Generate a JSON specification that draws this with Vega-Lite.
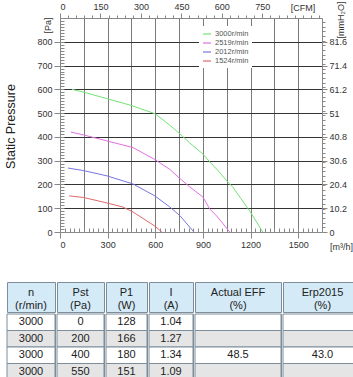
{
  "$schema": "https://vega.github.io/schema/vega-lite/v6.json",
  "background": "white",
  "padding": {"left": 4, "top": 1, "right": 0, "bottom": 0},
  "config": {
    "font": "Liberation Sans",
    "view": {"stroke": null},
    "axis": {"labelFont": "Liberation Sans", "titleFont": "Liberation Sans", "labelFontSize": 9, "labelColor": "#333", "titleColor": "#333", "titleFontWeight": "normal", "domainColor": "#888", "tickColor": "#888", "zindex": 0}
  },
  "datasets": {
    "curves": [
      {"speed": "3000r/min", "q": 75, "p": 600},
      {"speed": "3000r/min", "q": 150, "p": 588},
      {"speed": "3000r/min", "q": 300, "p": 560},
      {"speed": "3000r/min", "q": 450, "p": 532},
      {"speed": "3000r/min", "q": 600, "p": 497},
      {"speed": "3000r/min", "q": 692, "p": 449},
      {"speed": "3000r/min", "q": 755, "p": 413},
      {"speed": "3000r/min", "q": 818, "p": 374},
      {"speed": "3000r/min", "q": 900, "p": 328},
      {"speed": "3000r/min", "q": 943, "p": 295},
      {"speed": "3000r/min", "q": 1000, "p": 255},
      {"speed": "3000r/min", "q": 1050, "p": 215},
      {"speed": "3000r/min", "q": 1088, "p": 189},
      {"speed": "3000r/min", "q": 1140, "p": 140},
      {"speed": "3000r/min", "q": 1195, "p": 88},
      {"speed": "3000r/min", "q": 1277, "p": 0},
      {"speed": "2519r/min", "q": 69, "p": 420},
      {"speed": "2519r/min", "q": 150, "p": 408},
      {"speed": "2519r/min", "q": 296, "p": 383},
      {"speed": "2519r/min", "q": 460, "p": 355},
      {"speed": "2519r/min", "q": 597, "p": 305},
      {"speed": "2519r/min", "q": 692, "p": 263},
      {"speed": "2519r/min", "q": 755, "p": 225},
      {"speed": "2519r/min", "q": 818, "p": 189},
      {"speed": "2519r/min", "q": 900, "p": 147},
      {"speed": "2519r/min", "q": 943, "p": 97},
      {"speed": "2519r/min", "q": 987, "p": 67},
      {"speed": "2519r/min", "q": 1069, "p": 0},
      {"speed": "2012r/min", "q": 50, "p": 269},
      {"speed": "2012r/min", "q": 150, "p": 258},
      {"speed": "2012r/min", "q": 296, "p": 236},
      {"speed": "2012r/min", "q": 460, "p": 202},
      {"speed": "2012r/min", "q": 597, "p": 152},
      {"speed": "2012r/min", "q": 692, "p": 105},
      {"speed": "2012r/min", "q": 755, "p": 69},
      {"speed": "2012r/min", "q": 843, "p": 0},
      {"speed": "1524r/min", "q": 57, "p": 152},
      {"speed": "1524r/min", "q": 150, "p": 145},
      {"speed": "1524r/min", "q": 296, "p": 122},
      {"speed": "1524r/min", "q": 396, "p": 105},
      {"speed": "1524r/min", "q": 460, "p": 84},
      {"speed": "1524r/min", "q": 597, "p": 25},
      {"speed": "1524r/min", "q": 641, "p": 0}
    ],
    "headers": [
      {"n": "n\n(r/min)", "Pst": "Pst\n(Pa)", "P1": "P1\n(W)", "I": "I\n(A)", "EFF": "Actual EFF\n(%)", "Erp": "Erp2015\n(%)"}
    ],
    "perf": [
      {"row": 1, "n": "3000", "Pst": "0", "P1": "128", "I": "1.04", "EFF": "", "Erp": ""},
      {"row": 2, "n": "3000", "Pst": "200", "P1": "166", "I": "1.27", "EFF": "", "Erp": ""},
      {"row": 3, "n": "3000", "Pst": "400", "P1": "180", "I": "1.34", "EFF": "48.5", "Erp": "43.0"},
      {"row": 4, "n": "3000", "Pst": "550", "P1": "151", "I": "1.09", "EFF": "", "Erp": ""}
    ]
  },
  "spacing": 30,
  "vconcat": [
    {
      "spacing": -4,
      "hconcat": [
        {"width": 1, "height": 214, "data": {"name": "perf"}, "view": {"stroke": null}, "mark": {"type": "rect", "opacity": 0}, "encoding": {}},
        {
          "width": 262,
          "height": 214,
          "data": {"name": "curves"},
          "resolve": {"axis": {"x": "independent", "y": "independent"}},
          "layer": [
            {
              "mark": {"type": "point", "opacity": 0, "size": 0},
              "encoding": {
                "x": {"field": "q", "type": "quantitative", "scale": {"domain": [0, 1650], "nice": false},
                  "axis": {"orient": "bottom", "values": [150, 300, 450, 600, 750, 900, 1050, 1200, 1350, 1500], "grid": true, "gridColor": "#7a7a7a", "gridWidth": 1, "ticks": false, "labels": false, "domain": false, "title": null}},
                "y": {"field": "p", "type": "quantitative", "scale": {"domain": [0, 900], "nice": false},
                  "axis": {"orient": "left", "values": [100, 200, 300, 400, 500, 600, 700, 800], "grid": true, "gridColor": "#333", "gridWidth": 1, "ticks": false, "labels": false, "domain": false,
                    "title": "Static Pressure", "titleX": -50, "titleY": 108, "titleAngle": 270, "titleAlign": "center", "titleBaseline": "middle", "titleFontSize": 12.5, "titleColor": "#222"}}
              }
            },
            {
              "mark": {"type": "line", "strokeWidth": 1, "clip": true},
              "encoding": {
                "x": {"field": "q", "type": "quantitative",
                  "axis": {"orient": "bottom", "values": [0, 300, 600, 900, 1200, 1500], "format": "d", "tickSize": 6, "labelPadding": 2, "grid": false,
                    "title": "[m³/h]", "titleX": 281, "titleY": 14, "titleAlign": "center", "titleBaseline": "middle", "titleFontSize": 9}},
                "y": {"field": "p", "type": "quantitative",
                  "axis": {"orient": "left", "values": [0, 100, 200, 300, 400, 500, 600, 700, 800], "format": "d", "tickSize": 6, "labelPadding": 2, "grid": false, "title": null}},
                "color": {"field": "speed", "type": "nominal",
                  "scale": {"domain": ["3000r/min", "2519r/min", "2012r/min", "1524r/min"], "range": ["#74e374", "#e36fe3", "#7676e0", "#e06868"]},
                  "legend": {"orient": "none", "legendX": 192, "legendY": 8, "title": null, "symbolType": "stroke", "symbolSize": 64, "symbolStrokeWidth": 1.2,
                    "labelFontSize": 7.5, "labelColor": "#555", "fillColor": "white", "padding": 3, "rowPadding": 0, "labelOffset": 3}}
              }
            },
            {
              "mark": {"type": "point", "opacity": 0, "size": 0},
              "encoding": {
                "x": {"field": "q", "type": "quantitative",
                  "axis": {"orient": "top", "values": [0, 254.85, 509.7, 764.55, 1019.4, 1274.25], "labelExpr": "toString(round(datum.value/1.69901))", "tickSize": 5, "labelPadding": 2, "grid": false,
                    "title": "[CFM]", "titleX": 242.5, "titleY": -11, "titleAlign": "center", "titleBaseline": "middle", "titleFontSize": 9}},
                "y": {"field": "p", "type": "quantitative",
                  "axis": {"orient": "right", "values": [0, 100, 200, 300, 400, 500, 600, 700, 800], "labelExpr": "toString(round(datum.value/0.980665)/10)", "tickSize": 5, "labelPadding": 2, "grid": false,
                    "title": "[mmH₂O]", "titleX": 18, "titleY": 1.5, "titleAngle": 270, "titleAlign": "center", "titleBaseline": "middle", "titleFontSize": 9}}
              }
            },
            {
              "mark": {"type": "point", "opacity": 0, "size": 0},
              "encoding": {
                "x": {"field": "q", "type": "quantitative",
                  "axis": {"orient": "bottom", "values": [30,60,90,120,150,180,210,240,270,300,330,360,390,420,450,480,510,540,570,600,630,660,690,720,750,780,810,840,870,900,930,960,990,1020,1050,1080,1110,1140,1170,1200,1230,1260,1290,1320,1350,1380,1410,1440,1470,1500,1530,1560,1590,1620], "tickSize": -4, "labels": false, "domain": false, "grid": false, "title": null}},
                "y": {"field": "p", "type": "quantitative",
                  "axis": {"orient": "left", "values": [12.5,25,37.5,50,62.5,75,87.5,100,112.5,125,137.5,150,162.5,175,187.5,200,212.5,225,237.5,250,262.5,275,287.5,300,312.5,325,337.5,350,362.5,375,387.5,400,412.5,425,437.5,450,462.5,475,487.5,500,512.5,525,537.5,550,562.5,575,587.5,600,612.5,625,637.5,650,662.5,675,687.5,700,712.5,725,737.5,750,762.5,775,787.5,800,812.5,825,837.5,850,862.5,875,887.5], "tickSize": -4, "labels": false, "domain": false, "grid": false,
                    "title": "[Pa]", "titleX": -12.5, "titleY": 7, "titleAngle": 270, "titleAlign": "center", "titleBaseline": "middle", "titleFontSize": 9}}
              }
            },
            {
              "mark": {"type": "point", "opacity": 0, "size": 0},
              "encoding": {
                "x": {"field": "q", "type": "quantitative",
                  "axis": {"orient": "top", "values": [50.97,101.94,152.91,203.88,254.85,305.82,356.79,407.76,458.73,509.7,560.67,611.64,662.61,713.58,764.55,815.52,866.49,917.46,968.43,1019.4,1070.37,1121.34,1172.31,1223.28,1274.25,1325.22,1376.19,1427.16,1478.13,1529.1,1580.07,1631.04], "tickSize": 3, "labels": false, "domain": false, "grid": false, "title": null}},
                "y": {"field": "p", "type": "quantitative",
                  "axis": {"orient": "right", "values": [19.61,39.23,58.84,78.45,98.07,117.68,137.29,156.91,176.52,196.13,215.75,235.36,254.97,274.59,294.2,313.81,333.43,353.04,372.65,392.27,411.88,431.49,451.11,470.72,490.33,509.95,529.56,549.17,568.79,588.4,608.01,627.63,647.24,666.85,686.47,706.08,725.69,745.31,764.92,784.53,804.15,823.76,843.37,862.99,882.6], "tickSize": 3, "labels": false, "domain": false, "grid": false, "title": null}}
              }
            }
          ]
        }
      ]
    },
    {
      "spacing": 0,
      "hconcat": [
        {"spacing": 0, "vconcat": [
          {"width": 48, "height": 30, "data": {"name": "headers"}, "view": {"fill": "#d4eaf7", "stroke": "#7d8e9a"},
           "mark": {"type": "text", "fontSize": 11, "lineBreak": "\n", "lineHeight": 12.5, "dy": -4, "color": "#222"}, "encoding": {"text": {"field": "n", "type": "nominal"}}},
          {"width": 48, "height": 66, "data": {"name": "perf"}, "view": {"stroke": "#7d8e9a"}, "layer": [
            {"mark": {"type": "rect", "stroke": "#7d8e9a", "strokeWidth": 1}, "encoding": {"y": {"field": "row", "type": "ordinal", "axis": null, "scale": {"paddingInner": 0, "paddingOuter": 0}}, "fill": {"condition": {"test": "datum.row % 2 == 0", "value": "#e5e5e5"}, "value": "#ffffff"}}},
            {"mark": {"type": "text", "fontSize": 11, "color": "#222"}, "encoding": {"y": {"field": "row", "type": "ordinal", "axis": null}, "text": {"field": "n", "type": "nominal"}}}
          ]}
        ]},
        {"spacing": 0, "vconcat": [
          {"width": 47, "height": 30, "data": {"name": "headers"}, "view": {"fill": "#d4eaf7", "stroke": "#7d8e9a"},
           "mark": {"type": "text", "fontSize": 11, "lineBreak": "\n", "lineHeight": 12.5, "dy": -4, "color": "#222"}, "encoding": {"text": {"field": "Pst", "type": "nominal"}}},
          {"width": 47, "height": 66, "data": {"name": "perf"}, "view": {"stroke": "#7d8e9a"}, "layer": [
            {"mark": {"type": "rect", "stroke": "#7d8e9a", "strokeWidth": 1}, "encoding": {"y": {"field": "row", "type": "ordinal", "axis": null, "scale": {"paddingInner": 0, "paddingOuter": 0}}, "fill": {"condition": {"test": "datum.row % 2 == 0", "value": "#e5e5e5"}, "value": "#ffffff"}}},
            {"mark": {"type": "text", "fontSize": 11, "color": "#222"}, "encoding": {"y": {"field": "row", "type": "ordinal", "axis": null}, "text": {"field": "Pst", "type": "nominal"}}}
          ]}
        ]},
        {"spacing": 0, "vconcat": [
          {"width": 41, "height": 30, "data": {"name": "headers"}, "view": {"fill": "#d4eaf7", "stroke": "#7d8e9a"},
           "mark": {"type": "text", "fontSize": 11, "lineBreak": "\n", "lineHeight": 12.5, "dy": -4, "color": "#222"}, "encoding": {"text": {"field": "P1", "type": "nominal"}}},
          {"width": 41, "height": 66, "data": {"name": "perf"}, "view": {"stroke": "#7d8e9a"}, "layer": [
            {"mark": {"type": "rect", "stroke": "#7d8e9a", "strokeWidth": 1}, "encoding": {"y": {"field": "row", "type": "ordinal", "axis": null, "scale": {"paddingInner": 0, "paddingOuter": 0}}, "fill": {"condition": {"test": "datum.row % 2 == 0", "value": "#e5e5e5"}, "value": "#ffffff"}}},
            {"mark": {"type": "text", "fontSize": 11, "color": "#222"}, "encoding": {"y": {"field": "row", "type": "ordinal", "axis": null}, "text": {"field": "P1", "type": "nominal"}}}
          ]}
        ]},
        {"spacing": 0, "vconcat": [
          {"width": 44, "height": 30, "data": {"name": "headers"}, "view": {"fill": "#d4eaf7", "stroke": "#7d8e9a"},
           "mark": {"type": "text", "fontSize": 11, "lineBreak": "\n", "lineHeight": 12.5, "dy": -4, "color": "#222"}, "encoding": {"text": {"field": "I", "type": "nominal"}}},
          {"width": 44, "height": 66, "data": {"name": "perf"}, "view": {"stroke": "#7d8e9a"}, "layer": [
            {"mark": {"type": "rect", "stroke": "#7d8e9a", "strokeWidth": 1}, "encoding": {"y": {"field": "row", "type": "ordinal", "axis": null, "scale": {"paddingInner": 0, "paddingOuter": 0}}, "fill": {"condition": {"test": "datum.row % 2 == 0", "value": "#e5e5e5"}, "value": "#ffffff"}}},
            {"mark": {"type": "text", "fontSize": 11, "color": "#222"}, "encoding": {"y": {"field": "row", "type": "ordinal", "axis": null}, "text": {"field": "I", "type": "nominal"}}}
          ]}
        ]},
        {"spacing": 0, "vconcat": [
          {"width": 86, "height": 30, "data": {"name": "headers"}, "view": {"fill": "#d4eaf7", "stroke": "#7d8e9a"},
           "mark": {"type": "text", "fontSize": 11, "lineBreak": "\n", "lineHeight": 12.5, "dy": -4, "color": "#222"}, "encoding": {"text": {"field": "EFF", "type": "nominal"}}},
          {"width": 86, "height": 66, "data": {"name": "perf"}, "view": {"stroke": "#7d8e9a"}, "layer": [
            {"mark": {"type": "rect", "stroke": "#7d8e9a", "strokeWidth": 1}, "encoding": {"y": {"field": "row", "type": "ordinal", "axis": null, "scale": {"paddingInner": 0, "paddingOuter": 0}}, "fill": {"condition": {"test": "datum.row % 2 == 0", "value": "#e5e5e5"}, "value": "#ffffff"}}},
            {"mark": {"type": "text", "fontSize": 11, "color": "#222"}, "encoding": {"y": {"field": "row", "type": "ordinal", "axis": null}, "text": {"field": "EFF", "type": "nominal"}}}
          ]}
        ]},
        {"spacing": 0, "vconcat": [
          {"width": 79, "height": 30, "data": {"name": "headers"}, "view": {"fill": "#d4eaf7", "stroke": "#7d8e9a"},
           "mark": {"type": "text", "fontSize": 11, "lineBreak": "\n", "lineHeight": 12.5, "dy": -4, "color": "#222"}, "encoding": {"text": {"field": "Erp", "type": "nominal"}}},
          {"width": 79, "height": 66, "data": {"name": "perf"}, "view": {"stroke": "#7d8e9a"}, "layer": [
            {"mark": {"type": "rect", "stroke": "#7d8e9a", "strokeWidth": 1}, "encoding": {"y": {"field": "row", "type": "ordinal", "axis": null, "scale": {"paddingInner": 0, "paddingOuter": 0}}, "fill": {"condition": {"test": "datum.row % 2 == 0", "value": "#e5e5e5"}, "value": "#ffffff"}}},
            {"mark": {"type": "text", "fontSize": 11, "color": "#222"}, "encoding": {"y": {"field": "row", "type": "ordinal", "axis": null}, "text": {"field": "Erp", "type": "nominal"}}}
          ]}
        ]}
      ]
    }
  ]
}
